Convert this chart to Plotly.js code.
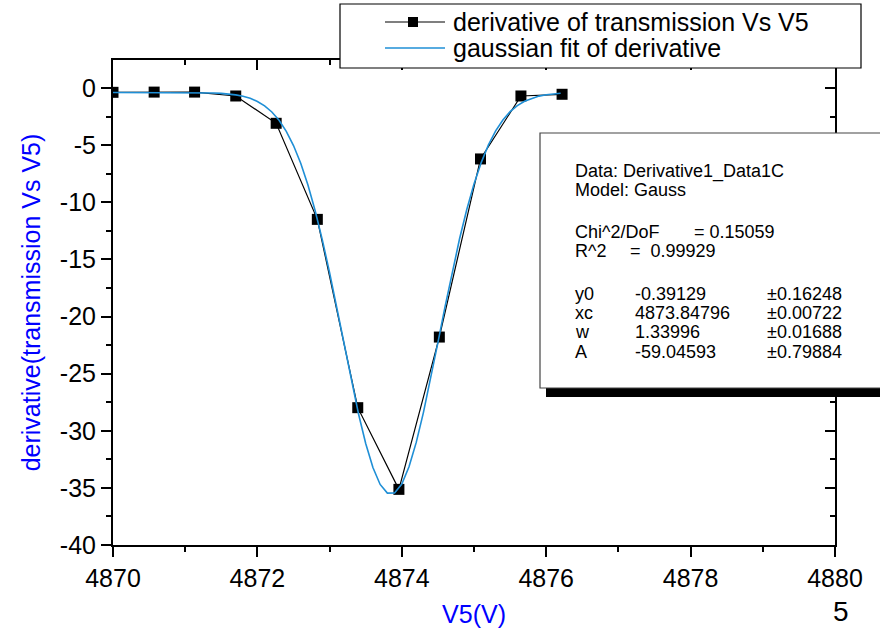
<!DOCTYPE html>
<html>
<head>
<meta charset="utf-8">
<script src="https://cdn.plot.ly/plotly-3.0.1.min.js"></script>
<style>html,body{margin:0;padding:0;background:#fff;}#chart{width:880px;height:629px;}</style>
</head>
<body>
<div id="chart"></div>
<script>
// ---- data ----
const dataX = [4870.00, 4870.57, 4871.13, 4871.70, 4872.26, 4872.83, 4873.39, 4873.96, 4874.52, 4875.09, 4875.65, 4876.22];
const dataY = [-0.38, -0.36, -0.36, -0.70, -3.09, -11.5, -27.98, -35.13, -21.8, -6.21, -0.70, -0.55];

const fitX = [4870.0, 4870.5, 4871.0, 4871.1, 4871.2, 4871.3, 4871.4, 4871.5, 4871.6, 4871.7, 4871.8, 4871.9,
              4872.0, 4872.1, 4872.2, 4872.3, 4872.4, 4872.5, 4872.6, 4872.7, 4872.8, 4872.9,
              4873.0, 4873.1, 4873.2, 4873.3, 4873.4, 4873.5, 4873.6, 4873.7, 4873.8, 4873.9,
              4874.0, 4874.1, 4874.2, 4874.3, 4874.4, 4874.5, 4874.6, 4874.7, 4874.8, 4874.9,
              4875.0, 4875.1, 4875.2, 4875.3, 4875.4, 4875.5, 4875.6, 4875.7, 4875.8, 4875.9,
              4876.0, 4876.1, 4876.2];
const fitY = [-0.39, -0.39, -0.395, -0.399, -0.405, -0.417, -0.435, -0.467, -0.517, -0.60, -0.72, -0.90,
              -1.18, -1.56, -2.10, -2.83, -3.79, -5.04, -6.59, -8.49, -10.74, -13.31,
              -16.17, -19.24, -22.41, -25.56, -28.51, -31.11, -33.22, -34.70, -35.46, -35.45,
              -34.66, -33.15, -31.02, -28.39, -25.43, -22.29, -19.12, -16.05, -13.20, -10.64,
              -8.41, -6.53, -4.98, -3.75, -2.80, -2.07, -1.54, -1.16, -0.90, -0.71,
              -0.59, -0.515, -0.465];

const yTickVals = [0, -5, -10, -15, -20, -25, -30, -35, -40];
const yTickText = ['0', '-5', '-10', '-15', '-20', '-25', '-30', '-35', '-40'];

const seriesNames = ['derivative of transmission Vs V5', 'gaussian fit of derivative'];
const xTitle = 'V5(V)';
const yTitle = 'derivative(transmission Vs V5)';
const xRange = [4870, 4880];
const yRange = [-40, 2.45];

const statsLines = [
  ['Data: Derivative1_Data1C', '', ''],
  ['Model: Gauss', '', ''],
  ['Chi^2/DoF', '= 0.15059', ''],
  ['R^2', '=\u00a0\u00a00.99929', ''],
  ['y0', '-0.39129', '\u00b10.16248'],
  ['xc', '4873.84796', '\u00b10.00722'],
  ['w', '1.33996', '\u00b10.01688'],
  ['A', '-59.04593', '\u00b10.79884']
];

// ---- layout helpers (pixel -> paper) ----
const L = 113, R = 835, T = 60, B = 545;
const px = v => (v - L) / (R - L);
const py = v => (B - v) / (B - T);
const FONT = 'Arial, "Liberation Sans", sans-serif';
const BLUE = '#0000ff';
const FITC = '#1f8fd6';

const traces = [
  {x: dataX, y: dataY, name: seriesNames[0], type: 'scatter', mode: 'lines+markers',
   line: {color: '#000', width: 1.2}, marker: {symbol: 'square', size: 11, color: '#000'},
   xaxis: 'x', yaxis: 'y'},
  {x: fitX, y: fitY, name: seriesNames[1], type: 'scatter', mode: 'lines',
   line: {color: FITC, width: 1.6}, xaxis: 'x2', yaxis: 'y2'}
];

const axCommon = {showgrid: false, zeroline: false, showline: true, linecolor: '#000', linewidth: 2,
  tickcolor: '#000', tickwidth: 2, ticklen: 10, tickfont: {family: FONT, size: 25, color: '#000'}};

const layout = {
  width: 880, height: 629,
  margin: {l: L, r: 880 - R, t: T, b: 629 - B},
  paper_bgcolor: '#fff', plot_bgcolor: '#fff',
  showlegend: false,
  font: {family: FONT},
  xaxis: Object.assign({}, axCommon, {range: xRange, tick0: 4870, dtick: 2, ticks: 'outside',
    minor: {dtick: 1, ticks: 'outside', ticklen: 5, tickwidth: 2, tickcolor: '#000'},
    title: {text: xTitle, font: {family: FONT, size: 25, color: BLUE}, standoff: 14}}),
  yaxis: Object.assign({}, axCommon, {range: yRange, tickmode: 'array', tickvals: yTickVals, ticktext: yTickText,
    ticks: 'outside',
    minor: {dtick: 2.5, tick0: 0, ticks: 'outside', ticklen: 5, tickwidth: 2, tickcolor: '#000'},
    title: {text: yTitle, font: {family: FONT, size: 25, color: BLUE}, standoff: 12}}),
  xaxis2: Object.assign({}, axCommon, {range: xRange, tick0: 4870, dtick: 2, ticks: 'inside',
    overlaying: 'x', side: 'top', anchor: 'y2', showticklabels: false,
    minor: {dtick: 1, ticks: 'inside', ticklen: 5, tickwidth: 2, tickcolor: '#000'}}),
  yaxis2: Object.assign({}, axCommon, {range: yRange, tick0: 0, dtick: 5, ticks: 'inside',
    overlaying: 'y', side: 'right', anchor: 'x2', showticklabels: false,
    minor: {dtick: 2.5, ticks: 'inside', ticklen: 5, tickwidth: 2, tickcolor: '#000'}}),
  shapes: [
    // legend box
    {type: 'rect', xref: 'paper', yref: 'paper', layer: 'above',
     x0: px(340), x1: px(861), y0: py(68), y1: py(4), fillcolor: '#fff', line: {color: '#000', width: 1.2}},
    {type: 'line', xref: 'paper', yref: 'paper', layer: 'above',
     x0: px(385), x1: px(445), y0: py(22), y1: py(22), line: {color: '#000', width: 1.2}},
    {type: 'rect', xref: 'paper', yref: 'paper', layer: 'above',
     x0: px(408), x1: px(418), y0: py(27), y1: py(17), fillcolor: '#000', line: {width: 0}},
    {type: 'line', xref: 'paper', yref: 'paper', layer: 'above',
     x0: px(385), x1: px(445), y0: py(48), y1: py(48), line: {color: FITC, width: 1.6}},
    // stats box shadow and box
    {type: 'rect', xref: 'paper', yref: 'paper', layer: 'above',
     x0: px(546), x1: px(895), y0: py(397), y1: py(139), fillcolor: '#000', line: {width: 0}},
    {type: 'rect', xref: 'paper', yref: 'paper', layer: 'above',
     x0: px(540), x1: px(890), y0: py(388), y1: py(133), fillcolor: '#fff', line: {color: '#444', width: 1.2}}
  ],
  annotations: []
};

// legend texts
[[22, seriesNames[0]], [48, seriesNames[1]]].forEach(([yy, t]) => {
  layout.annotations.push({xref: 'paper', yref: 'paper', x: px(451), y: py(yy), xanchor: 'left', yanchor: 'middle',
    text: t, showarrow: false, font: {family: FONT, size: 25, color: '#000'}});
});

// stats texts
const statY = [171, 190, 232, 251, 294, 313, 332, 352];
statsLines.forEach((row, i) => {
  const cols = [573, (i === 2 ? 692 : 633), 765];
  if (i === 3) cols[1] = 628;
  row.forEach((t, j) => {
    if (!t) return;
    layout.annotations.push({xref: 'paper', yref: 'paper', x: px(cols[j]), y: py(statY[i]),
      xanchor: 'left', yanchor: 'middle', text: t, showarrow: false,
      font: {family: FONT, size: 18, color: '#000'}});
  });
});

// page number at bottom right
layout.annotations.push({xref: 'paper', yref: 'paper', x: px(841), y: py(629), xanchor: 'center', yanchor: 'bottom',
  text: '5', showarrow: false, font: {family: FONT, size: 28, color: '#000'}});

Plotly.newPlot('chart', traces, layout, {staticPlot: true, displayModeBar: false});
</script>
</body>
</html>
